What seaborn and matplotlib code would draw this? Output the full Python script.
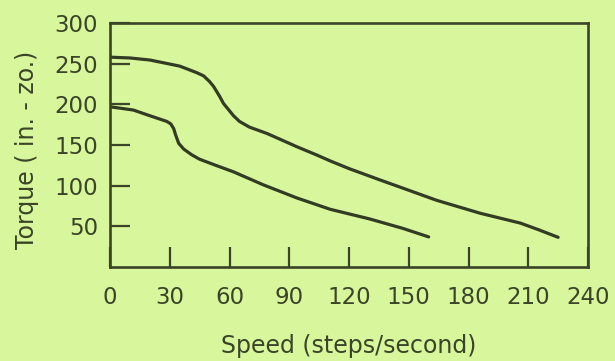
from __future__ import annotations

import matplotlib
import matplotlib.pyplot as plt
import pandas as pd
import seaborn as sns


matplotlib.use("Agg")


# values
UPPER_SPEED = [0, 10, 20, 35, 43.5, 47, 50, 52, 55, 57, 60, 62, 65, 70, 79, 93.7, 104, 110.5,
               120, 135.6, 147, 164, 175, 186, 206, 215, 225]
UPPER_TORQUE = [258, 257, 254.5, 247, 239, 235, 228, 222, 210, 201, 192, 186, 179, 172, 164,
                148, 137.5, 130.5, 121, 107, 97, 82, 74, 66, 54, 46, 36.5]

LOWER_SPEED = [0, 11.7, 20, 28.5, 30.5, 32, 33, 34.5, 37, 41, 45, 52, 62, 77, 93.7, 110.5,
               130.5, 147, 160]
LOWER_TORQUE = [197, 193, 186, 179, 176, 170, 162, 152, 145, 138, 132.5, 126, 117, 101, 85, 71,
                59, 47.5, 37]

X_TICKS = [0, 30, 60, 90, 120, 150, 180, 210, 240]
Y_TICKS = [50, 100, 150, 200, 250, 300]

BACKGROUND = "#d8f69b"
INK = "#3a4428"
LINE = "#323c24"


def build_frame() -> pd.DataFrame:
    upper = pd.DataFrame({"speed": UPPER_SPEED, "torque": UPPER_TORQUE, "curve": "upper"})
    lower = pd.DataFrame({"speed": LOWER_SPEED, "torque": LOWER_TORQUE, "curve": "lower"})
    return pd.concat([upper, lower], ignore_index=True)


def main() -> None:
    sns.set_theme(style="ticks")
    plt.rcParams["font.family"] = ["DejaVu Sans"]

    fig = plt.figure(figsize=(6.15, 3.61), dpi=100, facecolor=BACKGROUND)
    ax = fig.add_axes([110 / 615, 1 - 267 / 361, 478 / 615, 244 / 361])
    ax.set_facecolor(BACKGROUND)

    df = build_frame()
    sns.lineplot(
        data=df,
        x="speed",
        y="torque",
        units="curve",
        estimator=None,
        color=LINE,
        linewidth=2.3,
        ax=ax,
    )

    ax.set_xlim(0, 240)
    ax.set_ylim(0, 300)
    ax.set_xticks(X_TICKS)
    ax.set_yticks(Y_TICKS)
    ax.tick_params(axis="both", direction="in", length=14.5, width=1.6, color=INK,
                   labelcolor=INK, labelsize=16.5)
    ax.tick_params(axis="x", pad=13.5)
    ax.tick_params(axis="y", pad=8.5)

    for spine in ax.spines.values():
        spine.set_visible(True)
        spine.set_color(INK)
        spine.set_linewidth(1.9)

    ax.set_xlabel("Speed (steps/second)", fontsize=17, color=INK)
    ax.set_ylabel("Torque ( in. - zo.)", fontsize=17, color=INK)
    ax.xaxis.label.set_va("center")
    ax.yaxis.label.set_va("center")
    ax.xaxis.set_label_coords(0.5, -0.324)
    ax.yaxis.set_label_coords(-0.174, 0.48)

    fig.savefig("out.png", dpi=100, facecolor=BACKGROUND)
    plt.close(fig)


if __name__ == "__main__":
    main()
